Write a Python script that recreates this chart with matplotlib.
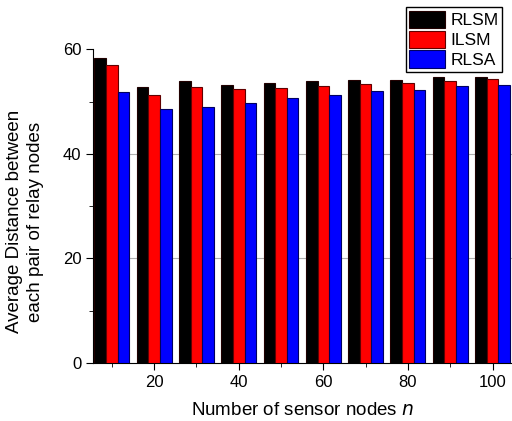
import matplotlib
matplotlib.use("Agg")
import matplotlib.pyplot as plt
import numpy as np

plt.rcParams['font.family'] = ['Liberation Sans', 'DejaVu Sans']

nodes = [10, 20, 30, 40, 50, 60, 70, 80, 90, 100]
rlsm = [58.4, 52.7, 53.9, 53.1, 53.6, 53.9, 54.1, 54.1, 54.6, 54.7]
ilsm = [57.0, 51.2, 52.8, 52.4, 52.6, 53.0, 53.3, 53.5, 54.0, 54.3]
rlsa = [51.9, 48.6, 48.9, 49.8, 50.6, 51.2, 52.1, 52.3, 52.9, 53.1]

series = [("RLSM", rlsm, "black", "#200000"),
          ("ILSM", ilsm, "red", "#600000"),
          ("RLSA", rlsa, "blue", "#000060")]

fig = plt.figure(figsize=(5.12, 4.21), dpi=100)
ax = fig.add_axes([0.182, 0.138, 0.818, 0.745])

w = 2.75
x = np.array(nodes, dtype=float)
for i, (name, vals, col, edge) in enumerate(series):
    ax.bar(x + (i - 1) * w, vals, width=w, color=col, edgecolor=edge,
           linewidth=0.8, label=name, zorder=3)

for g in [20, 40]:
    ax.axhline(g, color="#b0b0b0", linewidth=0.8, zorder=1)

ax.set_xlim(5.6, 104.6)
ax.set_ylim(0, 60)
ax.set_xticks([20, 40, 60, 80, 100])
ax.set_xticks([10, 30, 50, 70, 90], minor=True)
ax.set_yticks([0, 20, 40, 60])
ax.set_yticks([10, 30, 50], minor=True)
ax.spines['top'].set_visible(False)
ax.spines['right'].set_visible(False)
ax.tick_params(which='major', direction='out', length=5, labelsize=12)
ax.tick_params(which='minor', direction='out', length=3)

ax.set_xlabel("Number of sensor nodes $n$", fontsize=13.5, labelpad=9)
ax.set_ylabel("Average Distance between\neach pair of relay nodes", fontsize=13.5,
              linespacing=1.3)
ax.yaxis.set_label_coords(-0.118, 0.45)

leg = fig.legend(loc='upper right', bbox_to_anchor=(0.981, 0.983), fontsize=12.5,
                 handlelength=2.1, handleheight=1.2, labelspacing=0.12,
                 handletextpad=0.3, borderpad=0.2, borderaxespad=0,
                 fancybox=False, framealpha=1)
leg.get_frame().set_edgecolor("black")
leg.get_frame().set_linewidth(1.0)

fig.savefig("out.png", dpi=100)
